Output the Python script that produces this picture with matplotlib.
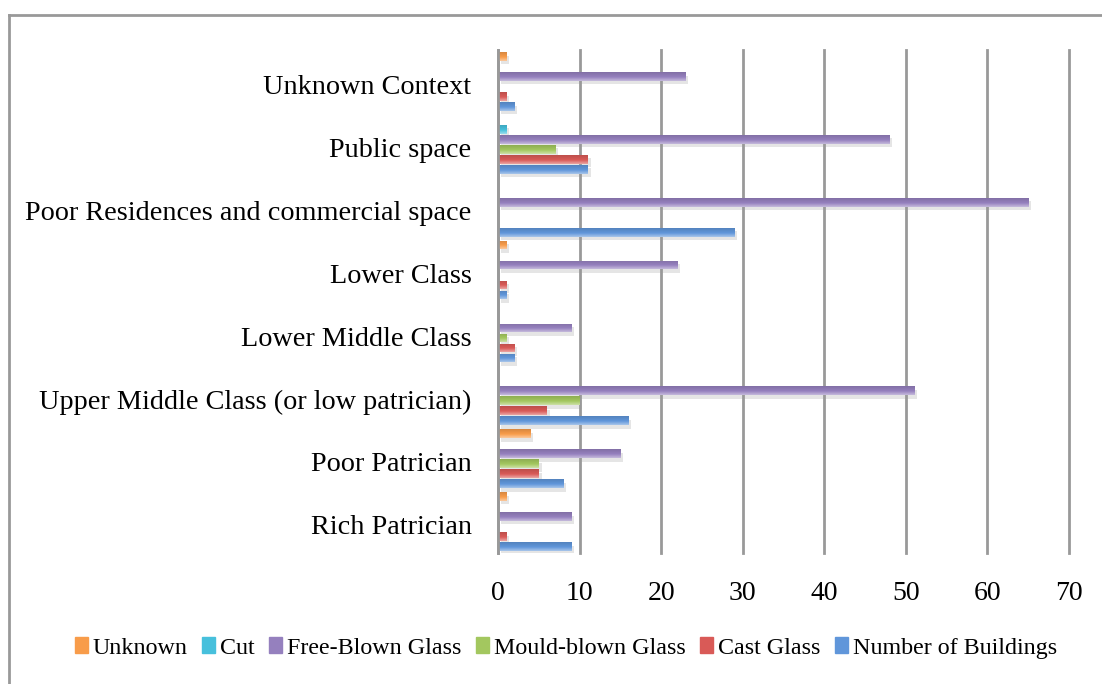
import numpy as np
import matplotlib
matplotlib.use("Agg")
import matplotlib.pyplot as plt
from matplotlib.lines import Line2D
from matplotlib.patches import Rectangle
import matplotlib.patheffects as pe
from matplotlib.colors import to_rgb

categories = ["Rich Patrician", "Poor Patrician", "Upper Middle Class (or low patrician)",
              "Lower Middle Class", "Lower Class", "Poor Residences and commercial space",
              "Public space", "Unknown Context"]

number_of_buildings = [9, 8, 16, 2, 1, 29, 11, 2]
cast_glass = [1, 5, 6, 2, 1, 0, 11, 1]
mould_blown = [0, 5, 10, 1, 0, 0, 7, 0]
free_blown = [9, 15, 51, 9, 22, 65, 48, 23]
cut = [0, 0, 0, 0, 0, 0, 1, 0]
unknown = [1, 4, 0, 0, 1, 0, 0, 1]

series_names = ["Number of Buildings", "Cast Glass", "Mould-blown Glass",
                "Free-Blown Glass", "Cut", "Unknown"]
series_values = [number_of_buildings, cast_glass, mould_blown, free_blown, cut, unknown]
colors = ["#6096DA", "#D95A57", "#A3C75F", "#9580BE", "#47C0DC", "#F89C4A"]

x_ticks = [0, 10, 20, 30, 40, 50, 60, 70]

plt.rcParams['font.family'] = ['Liberation Serif', 'DejaVu Serif']

fig = plt.figure(figsize=(11.02, 6.84), dpi=100)
ax = fig.add_axes([498/1102, 1-553/684, (1069-498)/1102, (553-50)/684])

n = len(series_names)
step = 0.159
h = 0.14
y0 = np.arange(len(categories))

def grad_img(c):
    base = np.array(to_rgb(c))
    light = base + (1 - base) * 0.45
    dark = base * 0.87
    arr = np.zeros((32, 1, 3))
    for i in range(32):
        t = i / 31
        if t < 0.45:
            s = t / 0.45
            arr[i, 0] = light * (1 - s) + base * s
        else:
            s = (t - 0.45) / 0.55
            arr[i, 0] = base * (1 - s) + dark * s
    return arr

for i, (name, vals, col) in enumerate(zip(series_names, series_values, colors)):
    ys = y0 + (i - (n - 1) / 2) * step
    bars = ax.barh(ys, vals, height=h, color=col, edgecolor='none', zorder=3, label=name)
    img = grad_img(col)
    for b, v, yy in zip(bars, vals, ys):
        if v <= 0:
            continue
        b.set_path_effects([pe.SimplePatchShadow(offset=(2, -2.5), shadow_rgbFace='#999999', alpha=0.25),
                            pe.Normal()])
        im = ax.imshow(img, extent=[0, v, yy + h / 2, yy - h / 2], aspect='auto',
                       zorder=4, interpolation='bilinear')
        im.set_clip_path(b)

ax.set_xlim(0, 70)
ax.set_ylim(-0.5, len(categories) - 0.5)
ax.set_xticks(x_ticks)
ax.set_xticklabels([str(t) for t in x_ticks], fontsize=20)
ax.set_yticks(y0 - 0.05)
ax.set_yticklabels(categories, fontsize=20.3)
ax.tick_params(axis='both', length=0)
ax.tick_params(axis='y', pad=19)
ax.tick_params(axis='x', pad=20)
ax.set_axisbelow(True)
ax.grid(axis='x', color='#999999', linewidth=2)
for gl in ax.get_xgridlines():
    gl.set_clip_on(False)
for s in ['top', 'right', 'bottom']:
    ax.spines[s].set_visible(False)
ax.spines['left'].set_color('#999999')
ax.spines['left'].set_linewidth(2)
ax.spines['left'].set_zorder(5)

handles = [Rectangle((0, 0), 1, 1, color=c) for c in colors][::-1]
labels = series_names[::-1]
fig.legend(handles, labels, loc='center', bbox_to_anchor=(566/1102, 1-648/684), ncol=6,
           frameon=False, fontsize=17.3, handlelength=0.55, handleheight=0.6,
           handletextpad=0.2, columnspacing=0.6)

fig.add_artist(Line2D([9/1102, 9/1102], [0, 1-15/684], color='#999999', linewidth=2))
fig.add_artist(Line2D([9/1102, 1], [1-15/684, 1-15/684], color='#999999', linewidth=2))

fig.savefig("out.png", dpi=100)
